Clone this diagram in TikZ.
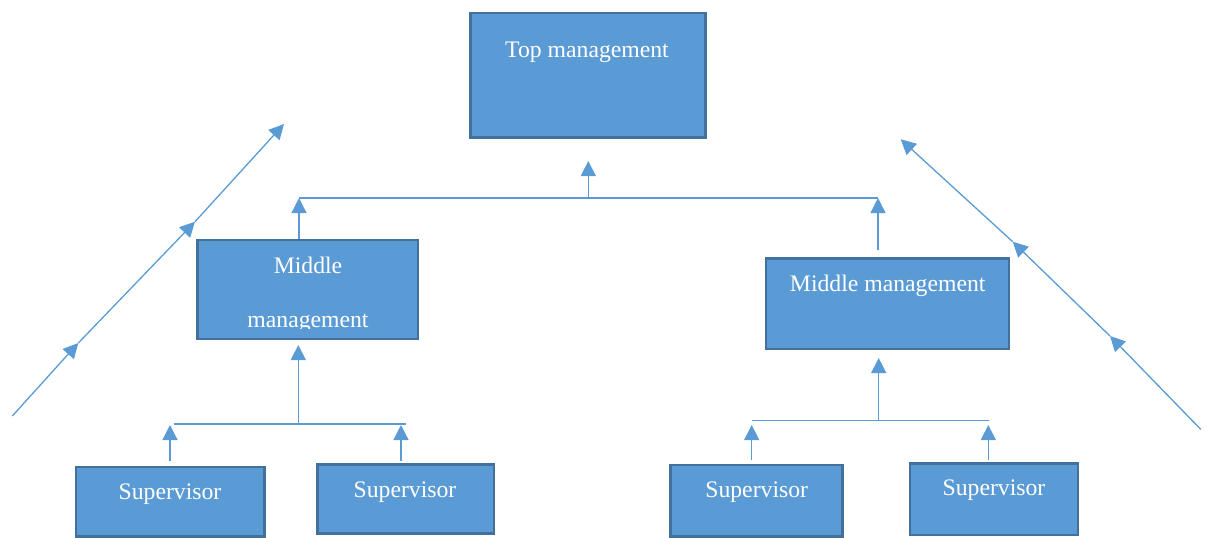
\documentclass[tikz,border=0pt]{standalone}
\usepackage{fontspec}
\setmainfont{Liberation Serif}
\usetikzlibrary{arrows.meta,fit}
\definecolor{boxfill}{HTML}{5B9BD5}
\definecolor{boxedge}{HTML}{41719C}
\definecolor{linkcol}{HTML}{5B9BD5}
\begin{document}
\begin{tikzpicture}[x=0.5pt,y=-0.5pt,
  box/.style={draw=boxedge,fill=boxfill,line width=1.3pt,inner sep=0pt,rectangle},
  lbl/.style={text=white,anchor=base,inner sep=0pt,font=\fontsize{11.85}{14}\selectfont},
  link/.style={draw=linkcol,line width=0.65pt},
  arr/.style={link,-{Triangle[length=7.5pt,width=7.5pt]}}]
\useasboundingbox (0,0) rectangle (1208,537);

% boxes
\node[box,fit={(470.3,13) (705.7,137.3)}] (top) {};
\node[box,fit={(197.7,240) (418,339)}] (midL) {};
\node[box,fit={(766,258.3) (1009,349)}] (midR) {};
\node[box,fit={(76,467) (264.7,536.5)}] (supL1) {};
\node[box,fit={(317.7,464.3) (494,533.3)}] (supL2) {};
\node[box,fit={(670.3,465) (842.3,536.5)}] (supR1) {};
\node[box,fit={(910,463.3) (1078,535)}] (supR2) {};

% labels
\node[lbl] (topT) at (587,57.5) {Top management};
\begin{scope}
  \clip (199,241) rectangle (417,328.3);
  \node[lbl] (midLa) at (308,273.2) {Middle};
  \node[lbl] (midLb) at (308,327) {management};
\end{scope}
\node[lbl] (midRT) at (887.7,291.2) {Middle management};
\node[lbl] (supL1T) at (170,499.8) {Supervisor};
\node[lbl] (supL2T) at (405,497.2) {Supervisor};
\node[lbl] (supR1T) at (756.7,497.2) {Supervisor};
\node[lbl] (supR2T) at (994,495.5) {Supervisor};

% upper level: middle management to top management
\coordinate (barL) at (299,198);
\coordinate (barM) at (588.3,198);
\coordinate (barR) at (878,198);
\coordinate (topTip) at (588.3,161);
\coordinate (midRStart) at (878,250);
\draw[link] (barL) -- (barR);
\draw[arr] (barM) -- (topTip);
\draw[arr] (barL |- midL.north) -- (barL);
\draw[arr] (midRStart) -- (barR);

% left branch: supervisors to middle management
\coordinate (lbM) at (298.3,424);
\coordinate (lbTip) at (298.3,345);
\draw[link] (174,424) -- (405.7,424);
\draw[arr] (lbM) -- (lbTip);
\draw[arr] (170,460.7) -- (170,425);
\draw[arr] (401,461) -- (401,425);

% right branch: supervisors to middle management
\coordinate (rbM) at (878.7,420.7);
\coordinate (rbTip) at (878.7,358);
\draw[link] (751.7,420.7) -- (989,420.7);
\draw[arr] (rbM) -- (rbTip);
\draw[arr] (751.7,460) -- (751.7,425);
\draw[arr] (988.3,460) -- (988.3,425);

% rising flow on the left
\coordinate (dl0) at (12.3,416);
\coordinate (dl1) at (78.3,343);
\coordinate (dl2) at (195,221.7);
\coordinate (dl3) at (284,124);
\draw[arr] (dl0) -- (dl1);
\draw[arr] (dl1) -- (dl2);
\draw[arr] (dl2) -- (dl3);

% rising flow on the right
\coordinate (dr0) at (1200.7,429.3);
\coordinate (dr1) at (1110,336);
\coordinate (dr2) at (1012.7,241.7);
\coordinate (dr3) at (900.7,139.3);
\draw[arr] (dr0) -- (dr1);
\draw[arr] (dr1) -- (dr2);
\draw[arr] (dr2) -- (dr3);
\end{tikzpicture}
\end{document}
